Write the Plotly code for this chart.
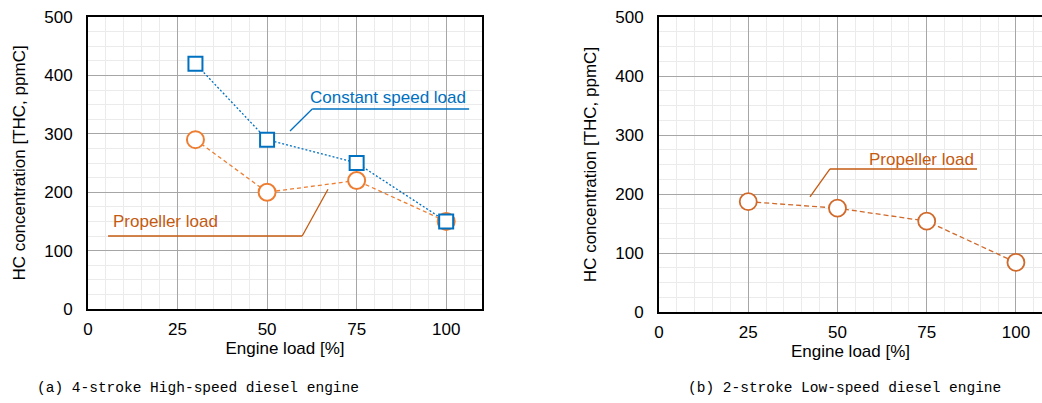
import plotly.graph_objects as go

# ---- data ----
load_a = [30, 50, 75, 100]
const_speed_a = [420, 290, 250, 150]
propeller_a = [290, 200, 220, 150]

load_b = [25, 50, 75, 100]
propeller_b = [187, 176, 154, 84]

x_ticks = [0, 25, 50, 75, 100]
y_ticks = [0, 100, 200, 300, 400, 500]

caption_a = "(a) 4-stroke High-speed diesel engine"
caption_b = "(b) 2-stroke Low-speed diesel engine"
y_title = "HC concentration [THC, ppmC]"
x_title = "Engine load [%]"

BLUE = "#0070C0"
ORANGE = "#ED7D31"
ORANGE_D = "#C55A11"
ORANGE_B = "#D0692A"

W, H = 1042, 403

fig = go.Figure()

fig.add_trace(go.Scatter(
    x=load_a, y=propeller_a, mode="lines+markers", xaxis="x", yaxis="y",
    line=dict(color=ORANGE, width=1.3, dash="4px,3px"),
    marker=dict(symbol="circle", size=17, color="white", line=dict(width=2, color=ORANGE)),
    showlegend=False))
fig.add_trace(go.Scatter(
    x=load_a, y=const_speed_a, mode="lines+markers", xaxis="x", yaxis="y",
    line=dict(color=BLUE, width=1.3, dash="2px,2px"),
    marker=dict(symbol="square", size=14, color="white", line=dict(width=2, color=BLUE)),
    showlegend=False))
fig.add_trace(go.Scatter(
    x=load_b, y=propeller_b, mode="lines+markers", xaxis="x2", yaxis="y2",
    line=dict(color=ORANGE_B, width=1.3, dash="5px,3px"),
    marker=dict(symbol="circle", size=17, color="white", line=dict(width=1.8, color=ORANGE_B)),
    showlegend=False))

font_txt = dict(family="Liberation Sans, Arial", size=17, color="#000000")

def xaxis(domain, rng):
    return dict(domain=domain, range=rng, tickvals=x_ticks, showgrid=True,
                gridcolor="#A6A6A6", gridwidth=1.3, zeroline=False, automargin=False,
                showline=True, linecolor="#000000", linewidth=2, mirror=True,
                ticks="", ticklabelstandoff=4, tickfont=font_txt,
                minor=dict(dtick=5, showgrid=True, gridcolor="#EBEBEB", gridwidth=1),
                title=dict(text=x_title, font=font_txt, standoff=0))

def yaxis(domain, anchor):
    return dict(domain=domain, range=[0, 500], tickvals=y_ticks, anchor=anchor,
                showgrid=True, gridcolor="#A6A6A6", gridwidth=1.3, zeroline=False,
                automargin=False,
                showline=True, linecolor="#000000", linewidth=2, mirror=True,
                ticks="", ticklabelstandoff=10, tickfont=font_txt,
                minor=dict(dtick=25, showgrid=True, gridcolor="#EBEBEB", gridwidth=1),
                title=dict(text=y_title, font=font_txt, standoff=14))

fig.update_layout(
    width=W, height=H, margin=dict(l=0, r=0, t=0, b=0, autoexpand=False),
    paper_bgcolor="white", plot_bgcolor="white",
    xaxis=xaxis([88 / W, 482 / W], [0, 110]) | dict(anchor="y"),
    yaxis=yaxis([1 - 309 / H, 1 - 17 / H], "x"),
    xaxis2=xaxis([659 / W, 1.0], [0, 107.3]) | dict(anchor="y2"),
    yaxis2=yaxis([1 - 312 / H, 1 - 17 / H], "x2"),
)

# leader lines (callouts)
def leader(pts, xr, yr, color):
    for (x0, y0), (x1, y1) in zip(pts[:-1], pts[1:]):
        fig.add_shape(type="line", x0=x0, y0=y0, x1=x1, y1=y1, xref=xr, yref=yr,
                      line=dict(color=color, width=1.3))

leader([(56.4, 304.8), (62.6, 342.5), (106.4, 342.5)], "x", "y", BLUE)
leader([(67.0, 205.0), (59.8, 125.0), (5.6, 125.0)], "x", "y", ORANGE_D)
leader([(42.3, 195.0), (47.9, 242.4), (89.1, 242.4)], "x2", "y2", ORANGE_D)

fig.add_annotation(x=83.8, y=363, xref="x", yref="y", text="Constant speed load",
                   showarrow=False, font=dict(family="Liberation Sans, Arial", size=17, color=BLUE))
fig.add_annotation(x=21.5, y=150, xref="x", yref="y", text="Propeller load",
                   showarrow=False, font=dict(family="Liberation Sans, Arial", size=17, color=ORANGE_D))
fig.add_annotation(x=73.4, y=258, xref="x2", yref="y2", text="Propeller load",
                   showarrow=False, font=dict(family="Liberation Sans, Arial", size=17, color=ORANGE_D))

cap_font = dict(family="Liberation Mono, DejaVu Sans Mono", size=14.5, color="#000000")
fig.add_annotation(x=198 / W, y=1 - 388 / H, xref="paper", yref="paper", text=caption_a,
                   xanchor="center", yanchor="middle", showarrow=False, font=cap_font)
fig.add_annotation(x=844 / W, y=1 - 388 / H, xref="paper", yref="paper", text=caption_b,
                   xanchor="center", yanchor="middle", showarrow=False, font=cap_font)

fig.write_html("out.html")
